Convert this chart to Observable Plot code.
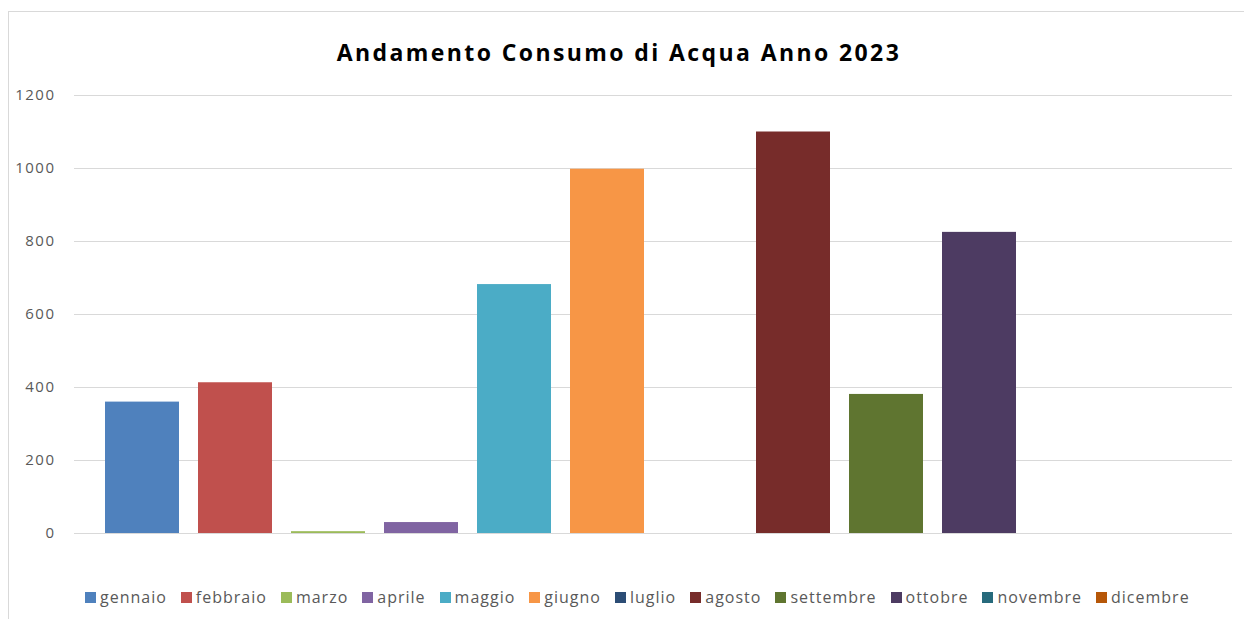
<!DOCTYPE html>
<html>
<head>
<meta charset="utf-8">
<script src="https://cdn.jsdelivr.net/npm/d3@7"></script>
<script src="https://cdn.jsdelivr.net/npm/@observablehq/plot@0.6"></script>
<style>
  html, body { margin: 0; padding: 0; background: #fff; }
  #page { position: relative; width: 1244px; height: 619px; overflow: hidden; font-family: "Open Sans", sans-serif; }
  #frame { position: absolute; left: 8px; top: 11px; width: 1300px; height: 700px; border: 1px solid #d9d9d9; box-sizing: border-box; }
  #title { position: absolute; left: -3px; width: 1244px; top: 36px; text-align: center; font-size: 23px; font-weight: bold; color: #000; letter-spacing: 2.4px; }
  #chart { position: absolute; left: 0; top: 0; }
  #legend { position: absolute; left: 85px; top: 586px; display: flex; gap: 14px; font-size: 16px; letter-spacing: 1px; color: #595959; white-space: nowrap; }
  #legend .item { display: flex; align-items: center; gap: 4px; }
  #legend .sw { width: 11px; height: 11px; display: inline-block; }
</style>
</head>
<body>
<div id="page">
  <div id="frame"></div>
  <div id="chart"></div>
  <div id="title">Andamento Consumo di Acqua Anno 2023</div>
  <div id="legend"></div>
</div>
<script>
const months = ["gennaio","febbraio","marzo","aprile","maggio","giugno","luglio","agosto","settembre","ottobre","novembre","dicembre"];
const values = [360, 413, 5, 30, 682, 998, 0, 1100, 381, 825, 0, 0];
const colors = ["#4F81BD","#C0504D","#9BBB59","#8064A2","#4BACC6","#F79646","#2C4D75","#772C2A","#5F7530","#4D3B62","#276A7C","#B65708"];
const yTicks = [0, 200, 400, 600, 800, 1000, 1200];

const data = months.map((m, i) => ({month: m, value: values[i]}));

const chart = Plot.plot({
  width: 1244,
  height: 619,
  marginTop: 95,
  marginBottom: 86,
  marginLeft: 74,
  marginRight: 12,
  style: {fontFamily: "Open Sans, sans-serif", fontSize: "15px", color: "#595959", background: "transparent", letterSpacing: "1.5px"},
  x: {domain: months, range: [103.3, 1202.8], paddingInner: 0.204, paddingOuter: 0, axis: null},
  y: {domain: [0, 1200], label: null},
  color: {domain: months, range: colors},
  marks: [
    Plot.ruleY(yTicks, {stroke: "#d9d9d9", strokeOpacity: 1}),
    Plot.barY(data, {x: "month", y: "value", fill: "month"}),
    Plot.axisY({ticks: yTicks, tickFormat: d => String(d), tickSize: 0, tickPadding: 19, label: null, fontSize: 15})
  ]
});
document.getElementById("chart").appendChild(chart);

const legend = document.getElementById("legend");
months.forEach((m, i) => {
  const it = document.createElement("div");
  it.className = "item";
  const sw = document.createElement("span");
  sw.className = "sw";
  sw.style.background = colors[i];
  const t = document.createElement("span");
  t.textContent = m;
  it.appendChild(sw);
  it.appendChild(t);
  legend.appendChild(it);
});
</script>
</body>
</html>
